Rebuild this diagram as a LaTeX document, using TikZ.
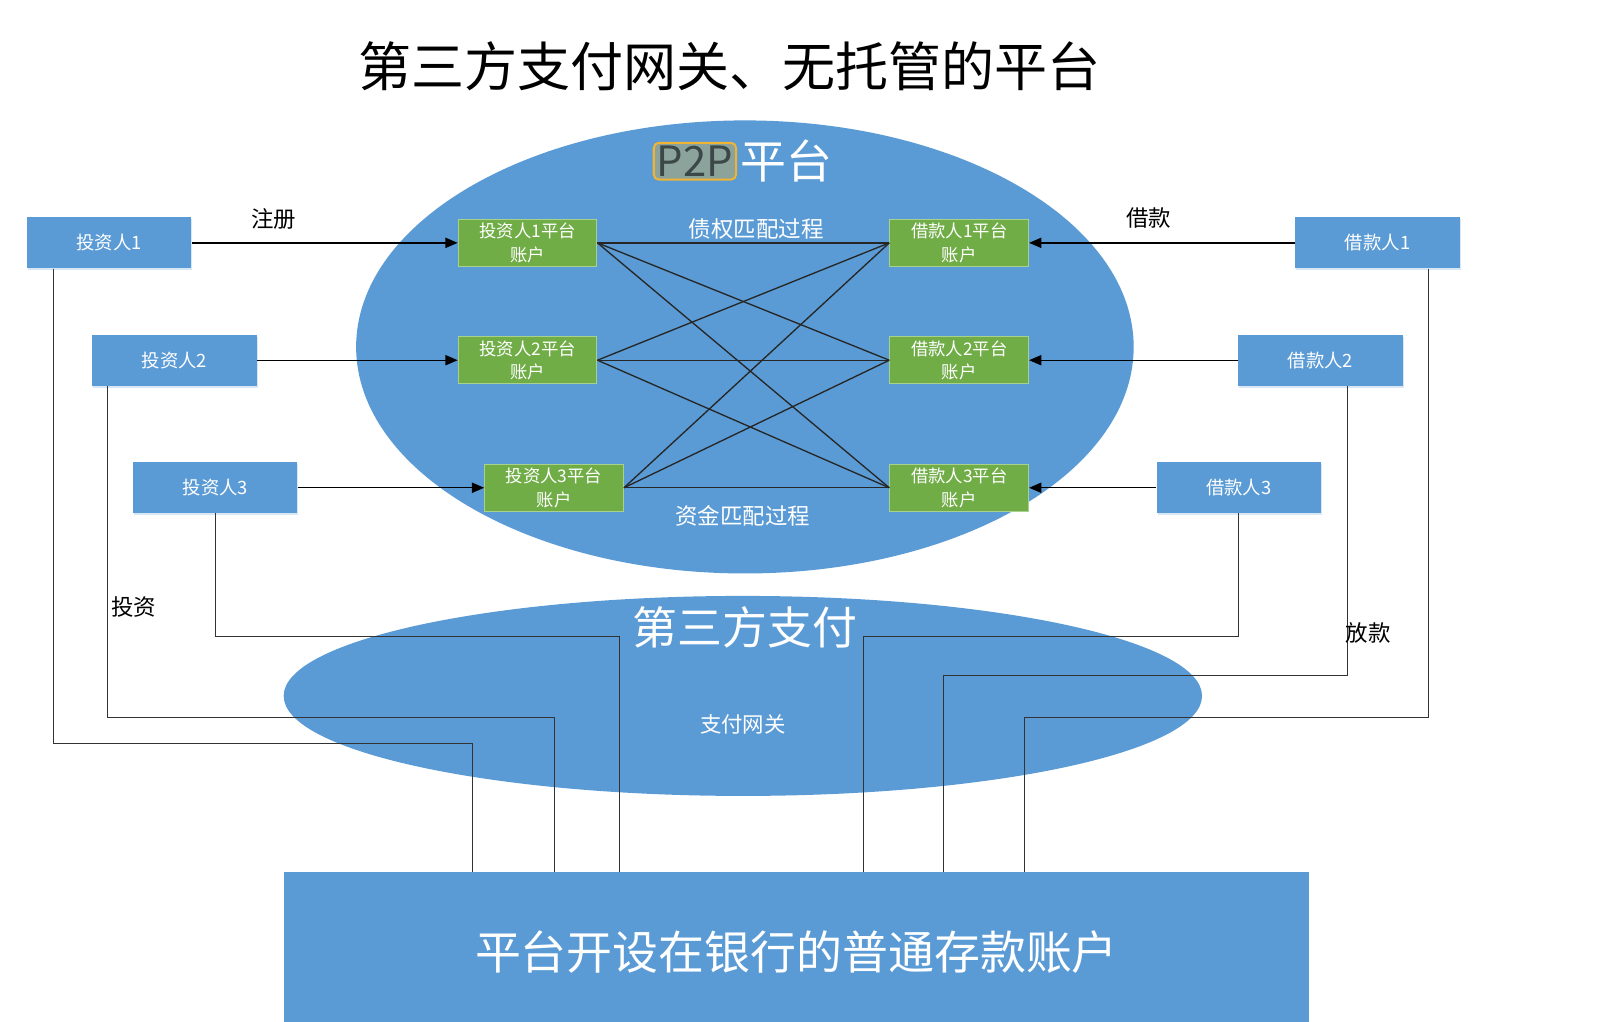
\documentclass[tikz,border=0pt]{standalone}
\usepackage{fontspec}
\setmainfont{Noto Sans CJK SC}
\usetikzlibrary{arrows.meta, positioning, shadows}
\definecolor{boxblue}{RGB}{91,155,213}
\definecolor{acctgreen}{RGB}{112,173,71}
\definecolor{acctedge}{RGB}{169,209,142}
\definecolor{tagfill}{RGB}{140,163,156}
\definecolor{tagedge}{RGB}{240,180,50}
\definecolor{tagtext}{RGB}{60,72,72}

\begin{document}
\begin{tikzpicture}[x=1pt, y=-1pt,
  person/.style={fill=boxblue, minimum width=161pt, minimum height=50pt, text=white,
    font=\fontsize{18}{21}\selectfont,
    drop shadow={shadow xshift=1pt, shadow yshift=-2pt, fill=boxblue!40, opacity=0.6}},
  acct/.style={fill=acctgreen, draw=acctedge, line width=1pt, minimum width=136pt,
    minimum height=46pt, inner sep=1pt, align=center, text=white,
    font=\fontsize{17}{23}\selectfont},
  link/.style={-{Triangle[length=12pt,width=10pt]}, line width=1.3pt},
  match/.style={line width=1.3pt, black!85},
  wire/.style={line width=1pt, black!80},
  note/.style={font=\fontsize{22}{26}\selectfont}]
  \useasboundingbox (0,0) rectangle (1568,1001);

  % title
  \node[font=\fontsize{52}{60}\selectfont] (title) at (715,65) {第三方支付网关、无托管的平台};

  % P2P platform and payment gateway
  \fill[boxblue] (730,340) ellipse [x radius=381, y radius=222];
  \fill[boxblue] (728,682) ellipse [x radius=450, y radius=98];
  \node[fill=tagfill, draw=tagedge, line width=2pt, rounded corners=5pt, inner sep=3pt,
    text=tagtext, font=\fontsize{41}{46}\selectfont] (tag) at (681,158) {P2P};
  \node[right=0pt of tag, text=white, font=\fontsize{45}{50}\selectfont] (plat) {平台};
  \node[text=white, font=\fontsize{44}{50}\selectfont] (pay) at (730,615) {第三方支付};
  \node[text=white, font=\fontsize{21}{25}\selectfont] (gate) at (728,710) {支付网关};

  % bank account
  \node[fill=boxblue, minimum width=1005pt, minimum height=156pt, text=white,
    font=\fontsize{45}{50}\selectfont] (bank) at (780.5,933) {平台开设在银行的普通存款账户};

  % investors and borrowers
  \node[person] (inv1) at (107,238) {投资人1};
  \node[person] (inv2) at (171,353) {投资人2};
  \node[person] (inv3) at (211,478) {投资人3};
  \node[person] (bor1) at (1350,238) {借款人1};
  \node[person] (bor2) at (1294,353) {借款人2};
  \node[person] (bor3) at (1214,478) {借款人3};

  % platform accounts
  \node[acct] (iacc1) at (517,238) {投资人1平台\\账户};
  \node[acct] (iacc2) at (517,353) {投资人2平台\\账户};
  \node[acct] (iacc3) at (543,478) {投资人3平台\\账户};
  \node[acct] (bacc1) at (940,238) {借款人1平台\\账户};
  \node[acct] (bacc2) at (940,353) {借款人2平台\\账户};
  \node[acct] (bacc3) at (940,478) {借款人3平台\\账户};

  % registration arrows
  \foreach \i in {1,2,3} {
    \draw[link] (inv\i) -- (iacc\i);
    \draw[link] (bor\i) -- (bacc\i);
  }
  % matching
  \foreach \i in {1,2,3}
    \foreach \j in {1,2,3}
      \draw[match] (iacc\i.east) -- (bacc\j.west);
  \node[text=white, font=\fontsize{22}{26}\selectfont] (debt) at (741,224) {债权匹配过程};
  \node[text=white, font=\fontsize{22}{26}\selectfont] (fund) at (728,506) {资金匹配过程};

  % money through the gateway
  \foreach \src/\dx/\hy/\bx in {inv1/-55/729/463, inv2/-66/703/543, inv3/0/624/607,
                                bor3/0/624/846, bor2/27/662/925, bor1/50/703/1004}
    \draw[wire] ([xshift=\dx pt]\src.south) |- (\bx,\hy) -- (\bx,0 |- bank.north);

  \node[note] (reg) at (268,215) {注册};
  \node[note] (loan) at (1126,214) {借款};
  \node[note] (invest) at (131,595) {投资};
  \node[note] (lend) at (1341,620) {放款};
\end{tikzpicture}
\end{document}
